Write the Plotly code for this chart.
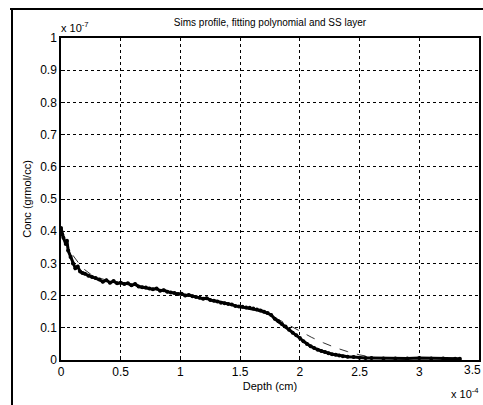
import plotly.graph_objects as go

# Measured SIMS profile (depth in 1e-4 cm, conc in 1e-7 grmol/cc)
depth = [0.00, 0.01, 0.02, 0.04, 0.05, 0.06, 0.08, 0.10, 0.12, 0.14, 0.16, 0.18, 0.20,
         0.23, 0.26, 0.29, 0.32, 0.35, 0.38, 0.41, 0.44, 0.47, 0.50, 0.53, 0.56, 0.59,
         0.62, 0.65, 0.68, 0.71, 0.74, 0.77, 0.80, 0.83, 0.86, 0.89, 0.92, 0.95, 0.98,
         1.01, 1.04, 1.07, 1.10, 1.13, 1.16, 1.19, 1.22, 1.25, 1.28, 1.31, 1.34, 1.37,
         1.40, 1.43, 1.46, 1.49, 1.52, 1.55, 1.58, 1.61, 1.64, 1.67, 1.70, 1.73, 1.76,
         1.79, 1.82, 1.85, 1.88, 1.91, 1.94, 1.97, 2.00, 2.03, 2.06, 2.09, 2.12, 2.15,
         2.18, 2.21, 2.24, 2.27, 2.30, 2.33, 2.36, 2.40, 2.45, 2.50, 2.55, 2.60, 2.70,
         2.80, 2.90, 3.00, 3.10, 3.20, 3.30, 3.34]
conc = [0.41, 0.39, 0.38, 0.36, 0.37, 0.34, 0.32, 0.30, 0.285, 0.29, 0.275, 0.27, 0.268,
        0.262, 0.258, 0.255, 0.25, 0.243, 0.248, 0.24, 0.245, 0.238, 0.24, 0.236, 0.238, 0.232,
        0.236, 0.228, 0.226, 0.225, 0.222, 0.22, 0.222, 0.215, 0.217, 0.212, 0.21, 0.208, 0.205,
        0.206, 0.20, 0.202, 0.198, 0.196, 0.193, 0.19, 0.192, 0.186, 0.184, 0.182, 0.178, 0.176,
        0.174, 0.172, 0.168, 0.166, 0.165, 0.163, 0.162, 0.16, 0.157, 0.154, 0.15, 0.146, 0.14,
        0.128, 0.12, 0.112, 0.104, 0.094, 0.085, 0.077, 0.068, 0.058, 0.05, 0.043, 0.037, 0.032,
        0.028, 0.025, 0.021, 0.018, 0.016, 0.014, 0.012, 0.010, 0.009, 0.007, 0.006, 0.006, 0.005,
        0.005, 0.005, 0.006, 0.005, 0.005, 0.004, 0.004]

# Fitting polynomial
fit_depth = [0.03, 0.06, 0.10, 0.15, 0.20, 0.25, 0.30, 0.40, 0.50, 0.70, 0.90, 1.10, 1.30,
             1.50, 1.70, 1.80, 1.90, 2.00, 2.10, 2.20, 2.30, 2.40, 2.50, 2.60, 2.70, 2.80]
fit_conc = [0.375, 0.355, 0.325, 0.300, 0.280, 0.266, 0.257, 0.246, 0.239, 0.227, 0.213, 0.199,
            0.184, 0.167, 0.146, 0.130, 0.110, 0.088, 0.070, 0.053, 0.038, 0.026, 0.016, 0.009,
            0.005, 0.004]

x_ticks = [0, 0.5, 1, 1.5, 2, 2.5, 3, 3.5]
y_ticks = [0, 0.1, 0.2, 0.3, 0.4, 0.5, 0.6, 0.7, 0.8, 0.9, 1]

fig = go.Figure()
fig.add_trace(go.Scatter(x=fit_depth, y=fit_conc, mode="lines",
                         line=dict(color="#333333", width=1, dash="dash"), showlegend=False))
fig.add_trace(go.Scatter(x=depth, y=conc, mode="lines+markers",
                         line=dict(color="black", width=3),
                         marker=dict(color="black", size=4), showlegend=False))

font = "Liberation Sans, Arial, sans-serif"
axis_common = dict(showgrid=True, gridcolor="black", griddash="dot", gridwidth=1,
                   showline=True, linecolor="black", linewidth=1.5, mirror=True,
                   ticks="inside", ticklen=4, tickcolor="black", zeroline=False,
                   automargin=False,
                   tickfont=dict(family=font, size=12, color="black"))

fig.update_layout(
    width=483, height=405,
    margin=dict(l=61, r=4, t=38, b=45),
    paper_bgcolor="white", plot_bgcolor="white",
    title=dict(text="Sims profile, fitting polynomial and SS layer",
               x=270 / 483, xanchor="center", y=1 - 22 / 405, yanchor="middle",
               font=dict(family=font, size=10, color="black")),
    xaxis=dict(range=[0, 3.5], tickvals=x_ticks, ticktext=[f"{t:g}" for t in x_ticks],
               title=dict(text="Depth (cm)", font=dict(family=font, size=11, color="black"),
                          standoff=4),
               **axis_common),
    yaxis=dict(range=[0, 1], tickvals=y_ticks, ticktext=[f"{t:g}" for t in y_ticks],
               title=dict(text="Conc (grmol/cc)", font=dict(family=font, size=11, color="black"),
                          standoff=6),
               **axis_common),
)

# last x tick label, kept inside the window edge
fig.add_annotation(text=f"{x_ticks[-1]:g}", xref="x", yref="paper",
                   x=x_ticks[-1], y=0, xanchor="right", yanchor="top", yshift=-1, xshift=4,
                   showarrow=False, font=dict(family=font, size=12, color="black"))

fig.add_annotation(text="x 10<sup>-7</sup>", xref="paper", yref="paper",
                   x=-2 / 418, y=1, xanchor="left", yanchor="bottom", yshift=2,
                   showarrow=False, font=dict(family=font, size=11, color="black"))
fig.add_annotation(text="x 10<sup>-4</sup>", xref="paper", yref="paper",
                   x=1, y=0, xanchor="right", yanchor="top", yshift=-24, xshift=2,
                   showarrow=False, font=dict(family=font, size=11, color="black"))

# window frame
fig.add_shape(type="line", xref="paper", yref="paper", x0=-49 / 418, x1=-49 / 418,
              y0=1 + 28 / 322, y1=-45 / 322, line=dict(color="black", width=2))
fig.add_shape(type="line", xref="paper", yref="paper", x0=-51 / 418, x1=1 + 4 / 418,
              y0=1 + 29 / 322, y1=1 + 29 / 322, line=dict(color="black", width=2))

fig.write_html("out.html")
